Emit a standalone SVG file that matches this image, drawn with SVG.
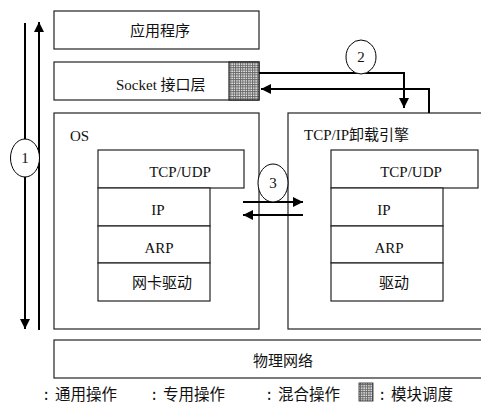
<svg xmlns="http://www.w3.org/2000/svg" width="481" height="403" viewBox="0 0 481 403">
<style>
.box{fill:#fff;stroke:#222;stroke-width:1.2}
.t{font-family:"Liberation Serif","Times New Roman","DejaVu Serif","Noto Sans CJK SC",serif;font-size:15px;fill:#111}
.c{font-family:"Noto Sans CJK SC","Liberation Sans",sans-serif;font-size:15px;fill:#111}
.lg{font-family:"Noto Sans CJK SC","Liberation Sans",sans-serif;font-size:15.5px;fill:#111}
.ln{fill:none;stroke:#000;stroke-width:2}
.circ{fill:#fff;stroke:#000;stroke-width:1}
</style>
<defs>
<pattern id="hatch" width="2.4" height="2.4" patternUnits="userSpaceOnUse">
<rect width="2.4" height="2.4" fill="#f4f4f4"/>
<rect width="2.4" height="1" fill="#666"/>
<rect width="1" height="2.4" fill="#666"/>
</pattern>
<marker id="ah" viewBox="0 0 10 10" refX="10" refY="5" markerWidth="5" markerHeight="5" orient="auto" markerUnits="strokeWidth">
<path d="M0,0 L10,5 L0,10 z" fill="#000"/>
</marker>
</defs>
<g id="app"><rect class="box" x="54" y="11" width="205" height="38"/><text class="c" x="160" y="36" text-anchor="middle">应用程序</text></g>
<g id="socket"><rect class="box" x="54" y="62" width="205" height="38"/><rect x="229" y="62" width="30" height="38" fill="url(#hatch)" stroke="#222" stroke-width="1.2"/><text class="t" x="116" y="90">Socket <tspan class="c">接口层</tspan></text></g>
<g id="os"><rect class="box" x="54" y="113" width="205" height="216"/><text class="t" x="70" y="141">OS</text></g>
<g id="os-tcp"><rect class="box" x="98" y="150" width="146" height="38"/><text class="t" x="180" y="177" text-anchor="middle">TCP/UDP</text></g>
<g id="os-ip"><rect class="box" x="98" y="188" width="112" height="38"/><text class="t" x="158" y="215" text-anchor="middle">IP</text></g>
<g id="os-arp"><rect class="box" x="98" y="226" width="112" height="37"/><text class="t" x="159" y="253" text-anchor="middle">ARP</text></g>
<g id="os-drv"><rect class="box" x="98" y="263" width="112" height="38"/><text class="c" x="162" y="288" text-anchor="middle">网卡驱动</text></g>
<g id="toe"><rect class="box" x="288" y="113" width="200" height="216"/><text class="t" x="304" y="140">TCP/IP<tspan class="c">卸载引擎</tspan></text></g>
<g id="toe-tcp"><rect class="box" x="331" y="150" width="147" height="38"/><text class="t" x="411" y="177" text-anchor="middle">TCP/UDP</text></g>
<g id="toe-ip"><rect class="box" x="331" y="188" width="112" height="38"/><text class="t" x="384" y="215" text-anchor="middle">IP</text></g>
<g id="toe-arp"><rect class="box" x="331" y="226" width="112" height="37"/><text class="t" x="389" y="253" text-anchor="middle">ARP</text></g>
<g id="toe-drv"><rect class="box" x="331" y="263" width="112" height="38"/><text class="c" x="394" y="288" text-anchor="middle">驱动</text></g>
<g id="phys"><rect class="box" x="54" y="340" width="440" height="38"/><text class="c" x="283" y="366" text-anchor="middle">物理网络</text></g>
<g id="connectors">
<path class="ln" d="M25,23 V329" marker-end="url(#ah)"/>
<path class="ln" d="M39,330 V22" marker-end="url(#ah)"/>
<path class="ln" d="M259,73 H404 V108" marker-end="url(#ah)"/>
<path class="ln" d="M429,113 V89 H261" marker-end="url(#ah)"/>
<path class="ln" d="M243,202 H303" marker-end="url(#ah)"/>
<path class="ln" d="M303,215 H243" marker-end="url(#ah)"/>
<ellipse class="circ" cx="25" cy="158" rx="14.5" ry="19"/><text class="t" x="25" y="163" text-anchor="middle">1</text>
<ellipse class="circ" cx="361" cy="57" rx="15" ry="17"/><text class="t" x="361" y="62" text-anchor="middle">2</text>
<ellipse class="circ" cx="273" cy="183" rx="15" ry="19"/><text class="t" x="273" y="188" text-anchor="middle">3</text>
</g>
<g id="legend" class="lg">
<text x="44" y="400">:</text><text x="55" y="400">通用操作</text>
<text x="152" y="400">:</text><text x="163" y="400">专用操作</text>
<text x="267" y="400">:</text><text x="278" y="400">混合操作</text>
<rect x="359" y="383" width="14" height="18" fill="url(#hatch)" stroke="#222" stroke-width="0.8"/>
<text x="380" y="400">:</text><text x="391" y="400">模块调度</text>
</g>
</svg>
